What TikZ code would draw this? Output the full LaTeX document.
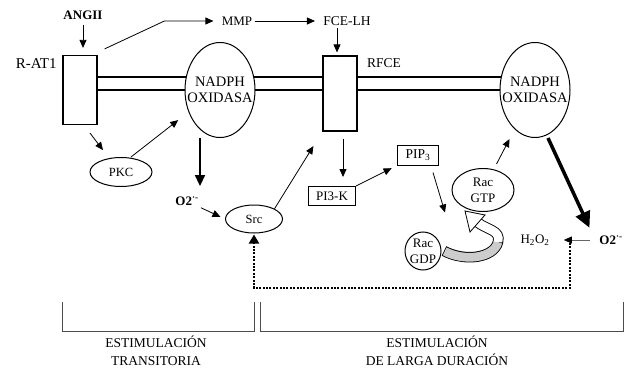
\documentclass[tikz,border=0pt]{standalone}
\usepackage{fontspec}
\setmainfont{Liberation Serif}
\usetikzlibrary{arrows.meta,calc,backgrounds,shapes.geometric}

\begin{document}
\begin{tikzpicture}[x=1pt, y=-1pt, line width=0.8pt,
    every node/.style={font=\fontsize{13.5}{16}\selectfont, align=center, inner sep=2pt},
    smalltxt/.style={font=\fontsize{12.5}{16}\selectfont},
    midtxt/.style={font=\fontsize{13}{16}\selectfont},
    bigtxt/.style={font=\fontsize{14.5}{16}\selectfont},
    boldtxt/.style={font=\fontsize{13}{16}\selectfont\bfseries},
    blk/.style={draw, fill=white, line width=1.2pt, inner sep=0pt},
    oval/.style={ellipse, draw, fill=white, line width=1pt, inner sep=0pt},
    arr/.style={-{Triangle[length=8pt,width=7pt]}},
    grayarr/.style={draw=black!60, -{Triangle[length=8pt,width=7pt,color=black]}},
    thickarr/.style={line width=2.2pt, -{Triangle[length=11pt,width=10pt]}},
    bigarr/.style={line width=3.5pt, -{Triangle[length=16pt,width=15pt]}},
    dotarr/.style={line width=2.2pt, dash pattern=on 2pt off 1.4pt, -{Triangle[length=9pt,width=10pt]}},
    membrane/.style={line width=1.8pt}]
  \useasboundingbox (0,0) rectangle (638,369);

  % receptors and oxidases sitting in the membrane
  \node[blk, minimum width=34pt, minimum height=69pt] (rat1) at (80,90) {};
  \node[anchor=east, font=\fontsize{15}{16}\selectfont] (rat1lbl) at (59,64) {R-AT1};
  \node[blk, minimum width=34pt, minimum height=75pt] (rfce) at (340,93.5) {};
  \node (rfcelbl) at (384,63) {RFCE};
  \node[oval, bigtxt, minimum width=70pt, minimum height=95pt, inner xsep=-14pt] (nox1) at (220,90) {NADPH\\OXIDASA};
  \node[oval, bigtxt, minimum width=70pt, minimum height=95pt, inner xsep=-14pt] (nox2) at (535,90) {NADPH\\OXIDASA};
  \begin{scope}[on background layer]
    \foreach \yy in {77,90}
      \draw[membrane] (rat1.east |- 0,\yy) -- (nox2.center |- 0,\yy);
  \end{scope}

  % ligands on top
  \node[boldtxt] (angii) at (83,15) {ANGII};
  \node[midtxt] (mmp) at (237,21) {MMP};
  \node (fcelh) at (347,21) {FCE-LH};
  \draw[arr, shorten <=3pt, shorten >=7pt] (angii) -- (angii |- rat1.north);
  \draw[arr, shorten >=6pt] ($(rat1.north east)+(7,-6)$) -- ([xshift=-55pt]mmp.west) -- (mmp.west);
  \draw[arr, shorten >=6pt] (mmp) -- (fcelh);
  \draw[arr, shorten >=3pt] ([xshift=-10pt]fcelh.south) -- ([xshift=-10pt]fcelh.south |- rfce.north);

  % transient branch
  \node[oval, smalltxt, minimum width=62pt, minimum height=29pt] (pkc) at (121,172) {PKC};
  \node[boldtxt] (o2a) at (187,201) {O2\textsuperscript{·-}};
  \node[oval, smalltxt, minimum width=57pt, minimum height=28pt] (src) at (254,219) {Src};
  \draw[arr] ($(rat1.south)+(10,8)$) -- ($(rat1.south)+(23,25)$);
  \draw[arr, shorten >=13pt] ([xshift=10pt]pkc.north) -- (nox1.215);
  \draw[thickarr] ([xshift=-20pt]nox1.south) -- ++(0,48);
  \draw[arr, shorten >=5pt] (o2a.south east) -- (src.west);
  \draw[arr, shorten >=17pt] (src.north east) -- (rfce.south west);

  % long-lasting branch
  \node[blk, midtxt, line width=1pt, minimum width=47pt, minimum height=19pt] (pi3k) at (332,196) {PI3-K};
  \node[blk, line width=1pt, minimum width=41pt, minimum height=20pt] (pip3) at (418,155) {PIP\textsubscript{3}};
  \node[oval, midtxt, minimum width=62pt, minimum height=43pt] (racgtp) at (483,190) {Rac\\GTP};
  \node[oval, midtxt, minimum width=36pt, minimum height=38pt, inner ysep=-3pt, inner xsep=-1pt] (racgdp) at (423,251) {Rac\\GDP};
  \draw[arr, shorten <=7pt, shorten >=9pt] ([xshift=3pt]rfce.south) -- ([xshift=3pt]rfce.south |- pi3k.north);
  \draw[arr, shorten >=6pt] (pi3k.north east) -- (pip3.south west);
  \draw[arr] ($(pip3.south)+(15,7)$) -- ($(pip3.south)+(27,47)$);
  \draw[arr, shorten <=6pt, shorten >=11pt] (racgtp) -- (nox2);

  % GDP -> GTP exchange arrow
  \draw[line width=10.5pt] (444,251) .. controls (465,262) and (494,258) .. (498,242)
    .. controls (501,230) and (487,230) .. (477,222);
  \draw[line width=8.7pt, gray!40, shorten <=0.8pt] (444,251) .. controls (465,262) and (494,258) .. (498,242);
  \draw[line width=8.7pt, white] (498,242) .. controls (501,230) and (487,230) .. (477,222);
  \filldraw[fill=white, line width=0.8pt] (465,211) -- (470,232) -- (485,215) -- cycle;

  % superoxide and feedback to Src
  \node[boldtxt] (o2b) at (611,240) {O2\textsuperscript{·-}};
  \node[midtxt] (h2o2) at (535,240) {H\textsubscript{2}O\textsubscript{2}};
  \draw[bigarr, shorten >=6pt] ([xshift=13pt]nox2.south) -- ($(o2b.north west)+(-5,0)$);
  \draw[grayarr, shorten <=7pt, shorten >=12pt] (o2b) -- (h2o2);
  \draw[dotarr, shorten >=1pt] ([xshift=18pt,yshift=-3pt]h2o2.east) -- ++(0,45) -| (src.south);

  % time brackets
  \draw[black!70] (62,302) |- (254,331) -- (254,302);
  \draw[black!70] (260,302) |- (623,331) -- (623,302);
  \node[font=\fontsize{13.5}{18}\selectfont] (est1) at (156,351) {ESTIMULACIÓN\\TRANSITORIA};
  \node[font=\fontsize{13.5}{18}\selectfont] (est2) at (437,351) {ESTIMULACIÓN\\DE LARGA DURACIÓN};
\end{tikzpicture}
\end{document}
